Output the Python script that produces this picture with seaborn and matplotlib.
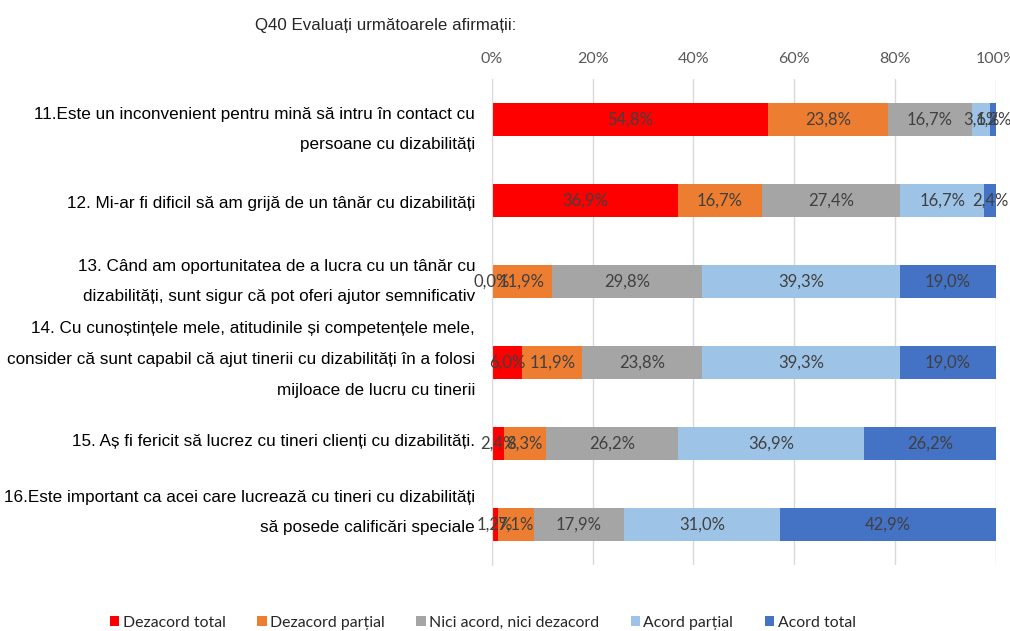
import numpy as np
import pandas as pd
import matplotlib
matplotlib.use("Agg")
import matplotlib.pyplot as plt
import matplotlib.transforms as mtransforms
import seaborn as sns
from matplotlib.patches import Patch

# ==================== DATA ====================
statements = [
    "11.Este un inconvenient pentru mină să intru în contact cu\npersoane cu dizabilități",
    "12. Mi-ar fi dificil să am grijă de un tânăr cu dizabilități",
    "13. Când am oportunitatea de a lucra cu un tânăr cu\ndizabilități, sunt sigur că pot oferi ajutor semnificativ",
    "14. Cu cunoștințele mele, atitudinile și competențele mele,\nconsider că sunt capabil că ajut tinerii cu dizabilități în a folosi\nmijloace de lucru cu tinerii",
    "15. Aș fi fericit să lucrez cu tineri clienți cu dizabilități.",
    "16.Este important ca acei care lucrează cu tineri cu dizabilități\nsă posede calificări speciale",
]
responses = ["Dezacord total", "Dezacord parțial", "Nici acord, nici dezacord",
             "Acord parțial", "Acord total"]

dezacord_total = [54.8, 36.9, 0.0, 6.0, 2.4, 1.2]
dezacord_partial = [23.8, 16.7, 11.9, 11.9, 8.3, 7.1]
neutru = [16.7, 27.4, 29.8, 23.8, 26.2, 17.9]
acord_partial = [3.6, 16.7, 39.3, 39.3, 36.9, 31.0]
acord_total = [1.2, 2.4, 19.0, 19.0, 26.2, 42.9]

colors = ["#FF0000", "#ED7D31", "#A5A5A5", "#9DC3E6", "#4472C4"]

# small vertical nudges of the category labels (pixels, + = down), as in the original
label_nudge = [1, 2, -9, -12, -3, -21]

df = pd.DataFrame({
    "statement": statements,
    responses[0]: dezacord_total,
    responses[1]: dezacord_partial,
    responses[2]: neutru,
    responses[3]: acord_partial,
    responses[4]: acord_total,
})
cum = df[responses].cumsum(axis=1)

# ==================== PLOT ====================
sns.set_style("white")
plt.rcParams["font.family"] = ["Liberation Sans", "DejaVu Sans"]
lato = ["Lato", "DejaVu Sans"]

fig = plt.figure(figsize=(10.1, 6.31), dpi=100)
ax = fig.add_axes([0.487, 0.105, 0.499, 0.770])

# stacked bars: draw cumulative totals from widest to narrowest
for resp, col in reversed(list(zip(responses, colors))):
    sns.barplot(x=cum[resp], y=df["statement"], color=col, width=0.41,
                linewidth=0, saturation=1, ax=ax, orient="h")

# value labels in the middle of each segment
for i in range(len(df)):
    left = 0
    for resp in responses:
        v = df.loc[i, resp]
        ax.text(left + v / 2, i, f"{v:.1f}".replace(".", ",") + "%",
                ha="center", va="center", fontsize=12, color="#404040",
                family=lato, clip_on=False)
        left += v

ax.set_xlim(0, 100)
ax.set_ylim(len(df) - 0.5, -0.5)
ax.set_xticks(np.arange(0, 101, 20))
ax.set_xticklabels([f"{t}%" for t in range(0, 101, 20)], family=lato)
ax.xaxis.tick_top()
ax.tick_params(axis="x", length=0, labelsize=11.5, labelcolor="#595959", pad=9)
ax.tick_params(axis="y", length=0, labelsize=12.3, labelcolor="#000000", pad=12)
for lab, dy in zip(ax.get_yticklabels(), label_nudge):
    lab.set_linespacing(2.3)
    lab.set_horizontalalignment("right")
    lab.set_transform(lab.get_transform() +
                      mtransforms.ScaledTranslation(0, -dy / 100, fig.dpi_scale_trans))
ax.grid(axis="x", color="#D9D9D9", linewidth=1)
ax.set_axisbelow(True)
for s in ["top", "right", "bottom"]:
    ax.spines[s].set_visible(False)
ax.spines["left"].set_color("#D9D9D9")
ax.set_xlabel("")
ax.set_ylabel("")

fig.text(0.252, 0.960, "Q40 Evaluați următoarele afirmații:", fontsize=12.2,
         ha="left", va="center")

handles = [Patch(facecolor=c, edgecolor="none") for c in colors]
fig.legend(handles, responses, loc="lower center", bbox_to_anchor=(0.478, -0.021),
           ncol=5, frameon=False, handlelength=0.6, handleheight=0.6,
           handletextpad=0.2, columnspacing=2.0,
           prop={"family": lato, "size": 11.4})

fig.savefig("out.png", dpi=100)
